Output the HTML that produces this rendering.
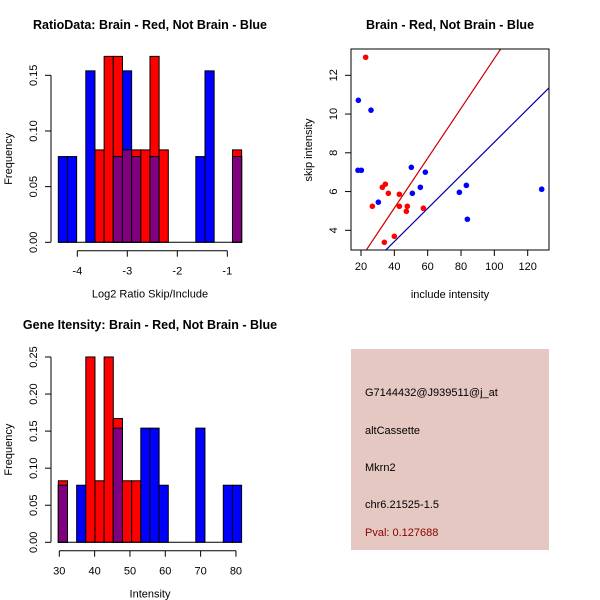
<!DOCTYPE html>
<html><head><meta charset="utf-8"><style>
html,body{margin:0;padding:0;background:#fff}
svg{display:block;font-family:"Liberation Sans",sans-serif}
</style></head><body>
<svg id="c" width="600" height="600" viewBox="0 0 600 600">
<rect x="0" y="0" width="600" height="600" fill="#fff"/>
<text x="150" y="29" font-size="12.5" font-weight="bold" text-anchor="middle">RatioData: Brain - Red, Not Brain - Blue</text>
<text x="450" y="29" font-size="12.5" font-weight="bold" text-anchor="middle">Brain - Red, Not Brain - Blue</text>
<text x="150" y="329" font-size="12.5" font-weight="bold" text-anchor="middle">Gene Itensity: Brain - Red, Not Brain - Blue</text>
<g id="h1"></g>
<g id="sc"></g>
<g id="h2"></g>
<g>
<rect x="351" y="349" width="198" height="201" fill="#e5c8c1"/>
<text x="365" y="396" font-size="11">G7144432@J939511@j_at</text>
<text x="365" y="434" font-size="11">altCassette</text>
<text x="365" y="471" font-size="11">Mkrn2</text>
<text x="365" y="508" font-size="11">chr6.21525-1.5</text>
<text x="365" y="536" font-size="11" fill="#8b0000">Pval: 0.127688</text>
</g>
</svg>
<script>
// Ratio histogram data
const ratioBinStart = -4.38;
const ratioBinWidth = 0.18335;
const ratioRed  = [0,0,0,0,0.083,0.167,0.167,0.083,0.083,0.083,0.167,0.083,0,0,0,0,0,0,0,0.083];
const ratioBlue = [0.077,0.077,0,0.154,0,0,0.077,0.154,0.077,0,0.077,0,0,0,0,0.077,0.154,0,0,0.077];
const ratioXTicks = [-4,-3,-2,-1];
const ratioYTicks = ["0.00","0.05","0.10","0.15"];
// Intensity histogram data
const intBinStart = 29.72;
const intBinWidth = 2.594;
const intRed  = [0.083,0,0,0.25,0.083,0.25,0.167,0.083,0.083,0,0,0,0,0,0,0,0,0,0,0];
const intBlue = [0.077,0,0.077,0,0,0,0.154,0,0,0.154,0.154,0.077,0,0,0,0.154,0,0,0.077,0.077];
const intXTicks = [30,40,50,60,70,80];
const intYTicks = ["0.00","0.05","0.10","0.15","0.20","0.25"];
// Scatter data
const redInc  = [22.8,26.8,32.8,34.6,36.4,43,43,47.8,47.2,57.4,34,40];
const redSkip = [12.93,5.24,6.22,6.38,5.91,5.86,5.24,5.24,4.98,5.14,3.38,3.69];
const blueInc  = [18.4,26,18.2,20.2,30.4,50.2,50.8,55.6,58.6,79,83.2,83.8,128.4];
const blueSkip = [10.71,10.2,7.1,7.1,5.45,7.25,5.91,6.22,7.0,5.96,6.32,4.57,6.12];
const redSlope = 0.1287;
const blueSlope = 0.0855;
const scXTicks = [20,40,60,80,100,120];
const scYTicks = [4,6,8,10,12];

const NS="http://www.w3.org/2000/svg";
function mk(p,t,a){const e=document.createElementNS(NS,t);for(const k in a)e.setAttribute(k,a[k]);p.appendChild(e);return e;}

function hist(g,binStart,binW,red,blue,xt,yt,xs,ys,xLabel,axY){
  const bx=(v)=>xs(v);
  for(let i=0;i<red.length;i++){
    const x0=bx(binStart+i*binW),x1=bx(binStart+(i+1)*binW);
    const layers=[[blue[i],'#0000ff','blue'],[red[i],'#ff0000','red'],[Math.min(red[i],blue[i]),'#800080','overlap']];
    for(const [v,c,n] of layers){
      if(v<=0)continue;
      const r=mk(g,'rect',{x:x0,y:ys(v),width:x1-x0,height:ys(0)-ys(v),fill:c,stroke:'#000','stroke-width':1});
      
      
    }
  }
  mk(g,'line',{x1:bx(binStart),x2:bx(binStart+red.length*binW),y1:ys(0),y2:ys(0),stroke:'#000'});
  // y axis
  const yv=yt.map(Number);
  mk(g,'line',{x1:51,x2:51,y1:ys(yv[0]),y2:ys(yv[yv.length-1]),stroke:'#000'});
  yt.forEach((t,i)=>{const y=ys(yv[i]);mk(g,'line',{x1:45,x2:51,y1:y,y2:y,stroke:'#000'});
    const tx=mk(g,'text',{x:37,y:y,'font-size':11,'text-anchor':'middle',transform:`rotate(-90 37 ${y})`});tx.textContent=t;
    
    });
  mk(g,'line',{x1:xs(xt[0]),x2:xs(xt[xt.length-1]),y1:axY,y2:axY,stroke:'#000'});
  xt.forEach(t=>{const x=xs(t);mk(g,'line',{x1:x,x2:x,y1:axY,y2:axY+6,stroke:'#000'});
    const tx=mk(g,'text',{x:x,y:axY+24,'font-size':11,'text-anchor':'middle'});tx.textContent=t;
    
    });
  const xl=mk(g,'text',{x:150,y:axY+47,'font-size':11,'text-anchor':'middle'});xl.textContent=xLabel;
  
  
  const cy=(ys(0)+ys(yv[yv.length-1]))/2;
  const yl=mk(g,'text',{x:12,y:cy,'font-size':11,'text-anchor':'middle',transform:`rotate(-90 12 ${cy})`});yl.textContent='Frequency';
  
  
}
hist(document.getElementById('h1'),ratioBinStart,ratioBinWidth,ratioRed,ratioBlue,ratioXTicks,ratioYTicks,
  v=>77.3+(v+4)*50, v=>242.3-v*1113.3,'Log2 Ratio Skip/Include',250.7);
hist(document.getElementById('h2'),intBinStart,intBinWidth,intRed,intBlue,intXTicks,intYTicks,
  v=>59.3+(v-30)*3.533, v=>542.3-v*741.3,'Intensity',550.7);

// scatter
(function(){
  const g=document.getElementById('sc');
  const xs=v=>361+(v-20)*1.667, ys=v=>230.3-(v-4)*19.375;
  const L=351,R=549,T=49,B=250;
  const defs=mk(g,'defs',{});const cp=mk(defs,'clipPath',{id:'scclip'});mk(cp,'rect',{x:L,y:T,width:R-L,height:B-T});
  const lg=mk(g,'g',{'clip-path':'url(#scclip)'});
  const l1=mk(lg,'line',{x1:xs(0),y1:ys(0),x2:xs(140),y2:ys(140*redSlope),stroke:'#cc0000','stroke-width':1.2});
  
  
  const l2=mk(lg,'line',{x1:xs(0),y1:ys(0),x2:xs(140),y2:ys(140*blueSlope),stroke:'#0000aa','stroke-width':1.2});
  
  
  blueInc.forEach((v,i)=>{const c=mk(g,'circle',{cx:xs(v),cy:ys(blueSkip[i]),r:2.8,fill:'#0000ff'});
    
    });
  redInc.forEach((v,i)=>{const c=mk(g,'circle',{cx:xs(v),cy:ys(redSkip[i]),r:2.8,fill:'#ff0000'});
    
    });
  mk(g,'rect',{x:L,y:T,width:R-L,height:B-T,fill:'none',stroke:'#000'});
  scXTicks.forEach(t=>{const x=xs(t);mk(g,'line',{x1:x,x2:x,y1:B,y2:B+6,stroke:'#000'});
    const tx=mk(g,'text',{x:x,y:B+20,'font-size':11,'text-anchor':'middle'});tx.textContent=t;
    
    });
  scYTicks.forEach(t=>{const y=ys(t);mk(g,'line',{x1:L-6,x2:L,y1:y,y2:y,stroke:'#000'});
    const tx=mk(g,'text',{x:337,y:y,'font-size':11,'text-anchor':'middle',transform:`rotate(-90 337 ${y})`});tx.textContent=t;
    
    });
  const xl=mk(g,'text',{x:450,y:298,'font-size':11,'text-anchor':'middle'});xl.textContent='include intensity';
  
  
  const yl=mk(g,'text',{x:312,y:150,'font-size':11,'text-anchor':'middle',transform:'rotate(-90 312 150)'});yl.textContent='skip intensity';
  
  
})();
</script>
</body></html>
